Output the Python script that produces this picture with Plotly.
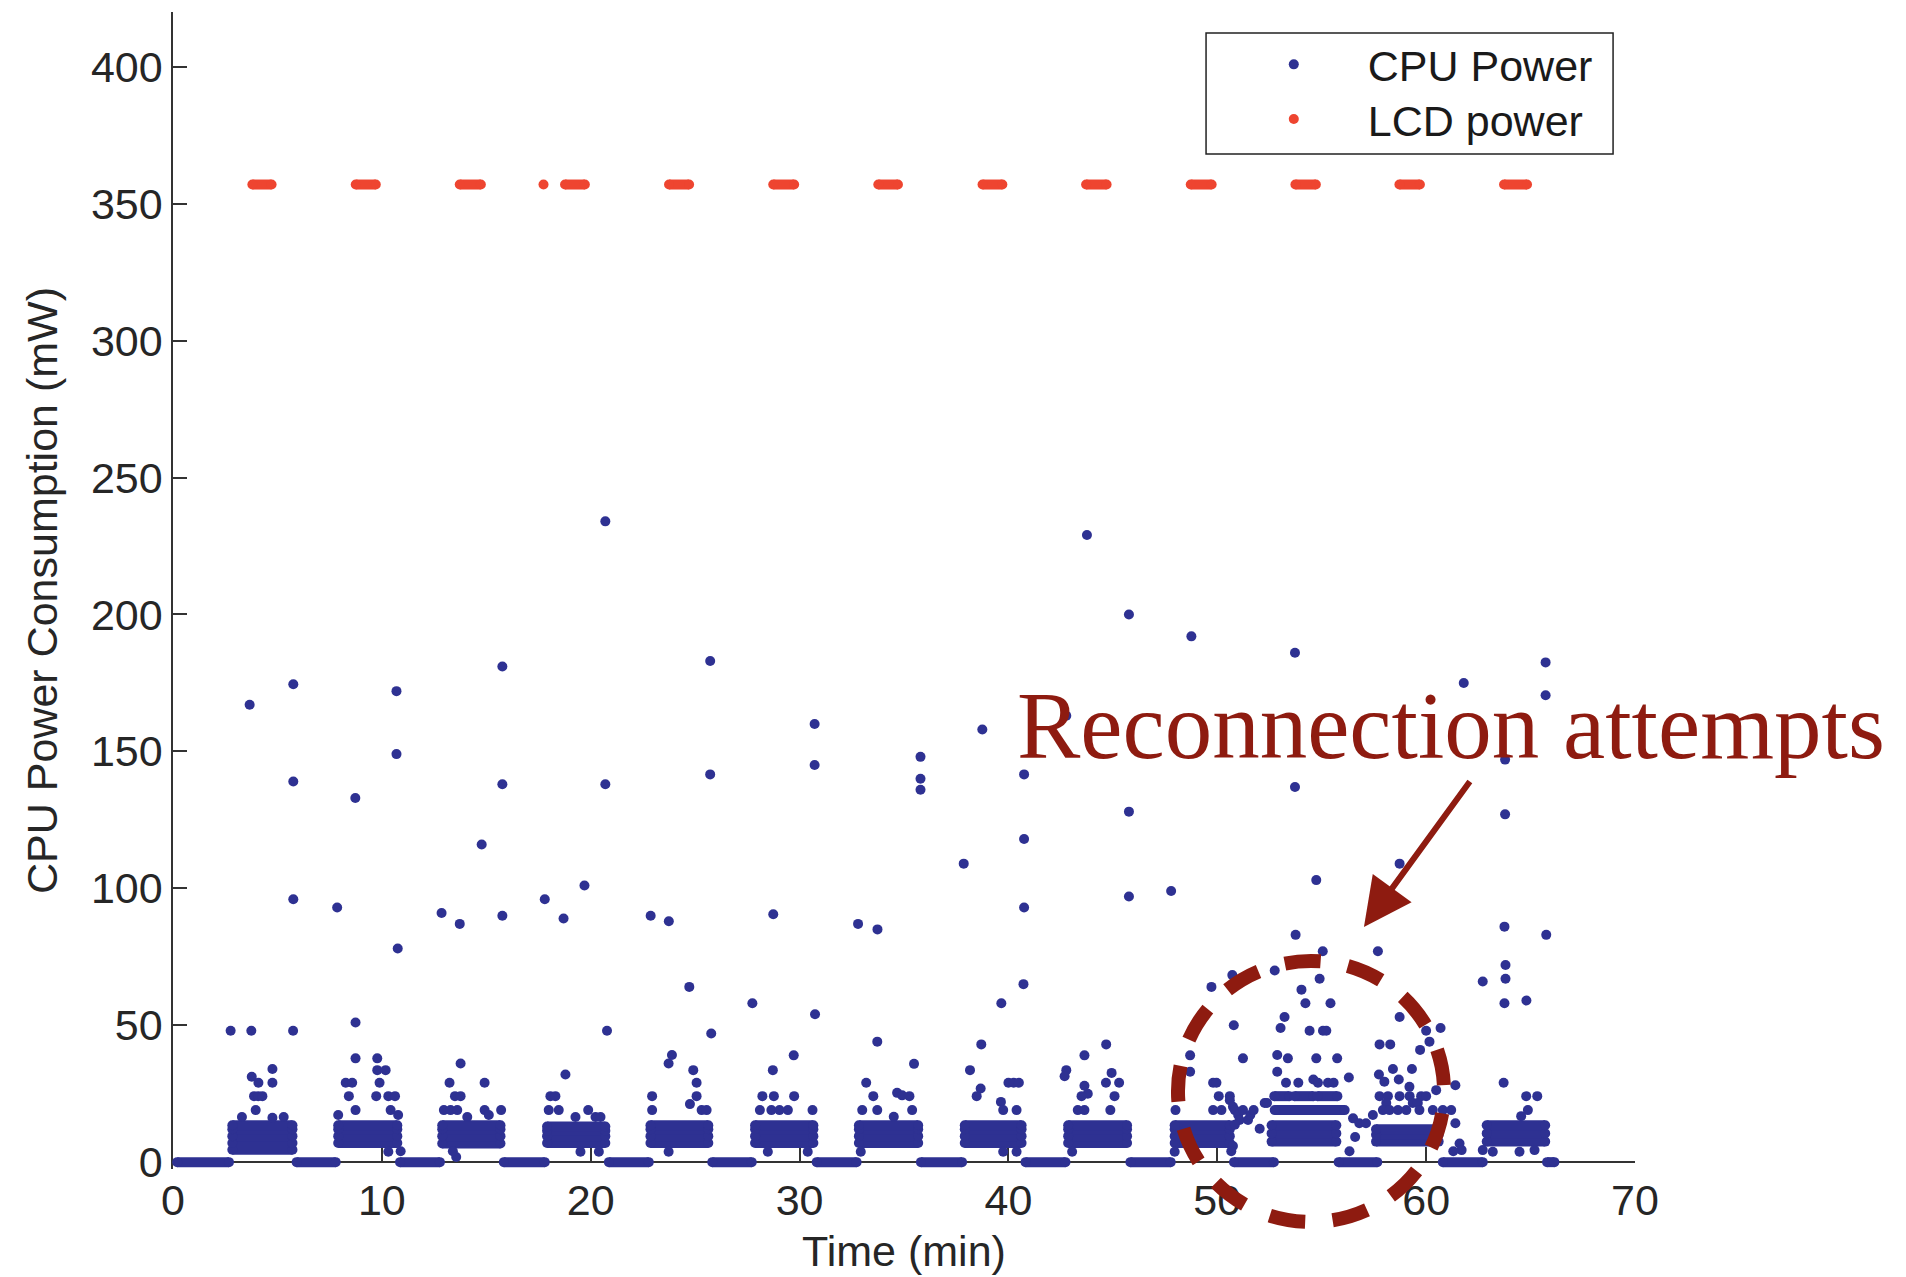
import plotly.graph_objects as go

SANS = "Liberation Sans, Arial, Helvetica, sans-serif"
SERIF = "Liberation Serif, Times New Roman, serif"
CPU_COLOR = "#2E3192"
LCD_COLOR = "#EE4530"
NOTE_COLOR = "#8E1B10"
AXIS_COLOR = "#333333"
TEXT_COLOR = "#262626"
DOT = 10

X_TICKS = [0, 10, 20, 30, 40, 50, 60, 70]
Y_TICKS = [0, 50, 100, 150, 200, 250, 300, 350, 400]
X_MAX = 70
Y_MAX = 420
Y_PAD = 2.5  # a little room below zero so the idle runs are drawn whole

# ---------------- LCD power (mW): screen-on intervals, minutes ----------------
LCD_MW = 357
LCD_ON_START = [3.80, 8.75, 13.73, 18.77, 23.75, 28.74, 33.77, 38.76, 43.72, 48.73, 53.74, 58.72, 63.73]
LCD_ON_END = [4.72, 9.71, 14.74, 19.72, 24.71, 29.74, 34.71, 39.71, 44.70, 49.73, 54.72, 59.70, 64.83]
LCD_SINGLE_T = [17.74]

# ---------------- CPU power (mW) ----------------
# idle runs at 0 mW
IDLE_START = [0.20, 5.92, 10.87, 15.84, 20.87, 25.82, 30.82, 35.81, 40.82, 45.84, 50.80, 55.81, 60.80, 65.79]
IDLE_END = [2.68, 7.79, 12.78, 17.80, 22.78, 27.71, 32.73, 37.78, 42.73, 47.77, 52.71, 57.66, 62.71, 66.14]

# busy runs: dense rows of samples at these levels
BUSY_START = [2.84, 7.91, 12.89, 17.91, 22.86, 27.87, 32.84, 37.91, 42.86, 47.96, 52.60, 57.60, 62.90]
BUSY_END = [5.72, 10.74, 15.68, 20.70, 25.63, 30.66, 35.68, 40.63, 45.68, 50.60, 55.70, 60.60, 65.70]
BUSY_LEVELS = [
    [4.5, 7.0, 9.5, 12.0, 13.5],
    [7.0, 9.5, 12.0, 13.5],
    [6.8, 9.5, 12.0, 13.5],
    [7.0, 9.5, 11.5, 13.0],
    [7.0, 9.5, 12.0, 13.5],
    [7.0, 9.5, 12.0, 13.5],
    [7.0, 9.5, 12.0, 13.5],
    [7.0, 9.5, 12.0, 13.5],
    [7.0, 9.5, 12.0, 13.5],
    [7.0, 9.5, 12.0, 13.5],
    [7.5, 10.5, 13.5],
    [7.5, 10.0, 12.0],
    [7.5, 10.5, 13.5],
]

# repeated reconnection attempts: steady rows above the busy band
RETRY_ROW_MW = [19.0, 24.1, 24.1, 24.1]
RETRY_ROW_START = [52.75, 52.73, 53.70, 54.80]
RETRY_ROW_END = [56.10, 53.45, 54.60, 55.75]

# isolated samples: spikes above the busy band
SPIKE_T = [2.76, 3.75, 5.75, 3.67, 5.76, 5.76, 5.76,
           7.86, 8.73, 8.74, 10.70, 10.70, 10.76,
           12.86, 13.73, 14.78, 15.77, 15.77, 15.77,
           17.80, 18.70, 19.70, 20.70, 20.70, 20.78,
           22.87, 23.74, 24.72, 25.72, 25.72, 25.77,
           27.74, 28.74, 30.72, 30.72, 30.74,
           32.80, 33.73, 33.72, 35.79, 35.79, 35.79,
           37.86, 38.75, 38.70, 39.66, 40.75, 40.75, 40.75, 40.72,
           42.77, 43.76, 44.68, 45.77, 45.77, 45.77,
           47.79, 48.76, 49.72, 50.72, 50.79,
           52.75, 53.72, 53.72, 54.74, 53.75, 54.90, 55.05, 54.03, 54.22, 55.42, 53.22, 53.03, 54.42, 55.06, 55.22,
           57.69, 58.73, 58.73, 60.00, 60.69, 60.16, 59.71, 57.77, 58.28,
           61.80, 62.71, 63.78, 63.78, 63.75, 63.80, 63.80, 63.75, 64.80, 65.72, 65.72, 65.75]
SPIKE_MW = [48, 48, 48, 167, 174.5, 139, 96,
            93, 133, 51, 172, 149, 78,
            91, 87, 116, 181, 138, 90,
            96, 89, 101, 234, 138, 48,
            90, 88, 64, 183, 141.6, 47,
            58, 90.5, 160, 145, 54,
            87, 85, 44, 148, 140, 136,
            109, 158, 43, 58, 141.6, 118, 93, 65,
            163, 229, 43, 200, 128, 97,
            99, 192, 64, 68.3, 50,
            70, 186, 137, 103, 83, 67, 77, 63, 58, 58, 53, 49, 48, 48, 48,
            77, 109, 53, 48, 49, 44, 41, 43, 43,
            175, 66, 147, 127, 86, 72, 67, 58, 59, 182.5, 170.5, 83]

# isolated samples: just above / below the busy band
BURST_T = [3.77, 4.09, 4.76, 4.76, 3.88, 4.08, 4.28, 3.96, 4.76, 3.30, 5.30,
           8.74, 9.78, 8.27, 8.58, 9.78, 10.18, 9.89, 8.42, 9.73, 10.31, 10.63, 8.74, 10.42, 7.91, 10.78, 10.90, 10.31,
           13.77, 13.24, 14.92, 13.50, 13.77, 12.97, 13.29, 13.61, 14.92, 15.71, 14.09, 15.12, 13.56, 13.40,
           18.79, 18.07, 18.31, 17.99, 18.47, 19.88, 19.27, 20.23, 20.47, 19.51, 20.39,
           22.94, 22.94, 23.73, 23.89, 24.91, 25.07, 25.07, 24.75, 25.31, 25.55, 23.73,
           28.72, 29.72, 28.22, 28.77, 29.74, 28.10, 28.65, 29.04, 29.44, 30.62, 28.48, 30.39,
           35.48, 33.19, 33.53, 34.67, 34.91, 35.26, 33.00, 33.72, 35.39, 34.51, 32.93,
           38.16, 38.67, 38.48, 40.00, 40.25, 40.50, 39.64, 39.75, 40.39, 39.75, 40.39,
           43.64, 42.77, 42.69, 44.94, 43.64, 43.80, 43.50, 44.67, 45.30, 45.08, 43.32, 43.64, 44.88, 43.05,
           48.70, 48.70, 48.00, 47.96, 49.80, 49.96, 50.07, 50.60, 49.80, 50.20]
BURST_MW = [31.2, 29, 34, 29, 24.1, 24.1, 24.1, 19, 16.2, 16.5, 16.5,
            37.9, 37.9, 29, 29, 33.6, 33.6, 29, 24.1, 24.1, 24.1, 24.1, 19, 19, 17.2, 17.2, 4.0, 3.8,
            36, 29, 29, 24.1, 24.1, 19, 19, 19, 19, 19, 16.5, 17.2, 1.9, 4.0,
            32, 24.1, 24.1, 19, 19, 19, 16.5, 16.5, 16.5, 3.8, 3.8,
            24.1, 19, 36, 39.1, 33.6, 29, 24.1, 21.2, 19, 19, 3.8,
            33.6, 39, 24.1, 24.1, 24.1, 19, 19, 19, 19, 19, 3.8, 3.8,
            35.9, 29, 24.1, 25.3, 24.4, 24.1, 19, 19, 19, 16.6, 3.8,
            33.6, 26.9, 24.1, 29, 29, 29, 22, 19, 19, 3.8, 3.8,
            39, 33.6, 31.4, 32.6, 27.9, 25, 24.1, 29, 29, 24.1, 19, 19, 19, 3.8,
            39, 33, 19, 3.8, 29, 29, 24.1, 24.1, 19, 19]

# isolated samples: scattered reconnection activity
RETRY_T = [50.60, 50.75, 50.84, 51.00, 51.07, 51.23, 51.47, 51.58, 51.74, 52.03, 52.27, 52.38, 50.84, 50.75, 50.67,
           51.23, 52.87, 53.38, 54.74, 55.74, 52.87, 53.29, 53.88, 54.60, 54.82, 55.30, 55.57,
           56.50, 56.80, 57.12, 57.45, 56.60, 56.33, 56.30,
           57.74, 58.41, 59.32, 61.40, 58.00, 58.69, 59.20, 60.48,
           57.77, 58.17, 58.73, 59.21, 59.76, 60.00, 58.09, 59.36, 59.60,
           57.93, 58.25, 58.65, 59.05, 59.68, 60.32, 60.80, 61.20, 61.40, 61.60, 61.70, 61.30,
           63.71, 64.79, 65.32, 64.87, 64.55, 62.71, 63.19, 64.47, 65.19]
RETRY_MW = [22.6, 20.2, 19.0, 17.2, 15.4, 19.0, 15.4, 17.2, 19.0, 12.2, 21.6, 21.6, 13.7, 5.9, 4.0,
            37.9, 39.1, 37.9, 37.9, 37.9, 33, 29, 29, 30.2, 29, 29, 29,
            16.0, 14.2, 14.2, 17.2, 9.2, 4.0, 30.9,
            32, 34, 34, 28.1, 29.4, 30.2, 27.5, 26.3,
            24.1, 24.1, 24.1, 24.1, 24.1, 24.1, 21.6, 21.6, 21.6,
            19, 19, 19, 19, 19, 19, 19, 19, 14.2, 6.8, 4.4, 4.0,
            29, 24.1, 24.1, 19, 16.8, 4.4, 3.8, 3.8, 4.4]


def runs(starts, ends, levels):
    """Flatten constant-level runs into one polyline broken by gaps."""
    xs, ys = [], []
    for s, e, v in zip(starts, ends, levels):
        xs += [s, e, None]
        ys += [v, v, None]
    return xs, ys


busy_s, busy_e, busy_v = [], [], []
for s, e, levels in zip(BUSY_START, BUSY_END, BUSY_LEVELS):
    for v in levels:
        busy_s.append(s)
        busy_e.append(e)
        busy_v.append(v)

cpu_run_x, cpu_run_y = runs(
    IDLE_START + busy_s + RETRY_ROW_START,
    IDLE_END + busy_e + RETRY_ROW_END,
    [0] * len(IDLE_START) + busy_v + RETRY_ROW_MW,
)
lcd_run_x, lcd_run_y = runs(LCD_ON_START, LCD_ON_END, [LCD_MW] * len(LCD_ON_START))

fig = go.Figure()
fig.add_trace(go.Scatter(
    x=cpu_run_x, y=cpu_run_y, mode="lines+markers",
    line=dict(color=CPU_COLOR, width=DOT),
    marker=dict(color=CPU_COLOR, size=DOT),
    showlegend=False, cliponaxis=False, hoverinfo="skip",
))
fig.add_trace(go.Scatter(
    x=SPIKE_T + BURST_T + RETRY_T, y=SPIKE_MW + BURST_MW + RETRY_MW,
    mode="markers", name="CPU Power",
    marker=dict(color=CPU_COLOR, size=DOT),
    cliponaxis=False, legend="legend",
))
fig.add_trace(go.Scatter(
    x=lcd_run_x, y=lcd_run_y, mode="lines+markers",
    line=dict(color=LCD_COLOR, width=DOT),
    marker=dict(color=LCD_COLOR, size=DOT),
    showlegend=False, cliponaxis=False, hoverinfo="skip",
))
fig.add_trace(go.Scatter(
    x=LCD_SINGLE_T, y=[LCD_MW] * len(LCD_SINGLE_T),
    mode="markers", name="LCD power",
    marker=dict(color=LCD_COLOR, size=DOT),
    cliponaxis=False, legend="legend2",
))

axis_common = dict(
    ticks="inside", ticklen=14, tickwidth=1.5, tickcolor=AXIS_COLOR,
    showline=True, linecolor=AXIS_COLOR, linewidth=1.5,
    showgrid=False, zeroline=False, layer="below traces",
    tickfont=dict(family=SANS, size=43, color=TEXT_COLOR),
)

# one legend per entry so the rows sit at the same spacing as the boxed key
legend_common = dict(
    x=0.7160, xanchor="left", yanchor="middle",
    bgcolor="rgba(0,0,0,0)", borderwidth=0,
    font=dict(family=SANS, size=43, color="#1a1a1a"),
    itemwidth=138,
)

fig.update_layout(
    width=1906, height=1277,
    margin=dict(l=173, r=271, t=12, b=108, autoexpand=False),
    paper_bgcolor="white", plot_bgcolor="white",
    font=dict(family=SANS, size=43, color=TEXT_COLOR),
    xaxis=dict(
        range=[0, X_MAX], tickvals=X_TICKS,
        anchor="free", position=Y_PAD / (Y_MAX + Y_PAD),
        title=dict(text="Time (min)", font=dict(family=SANS, size=43, color=TEXT_COLOR), standoff=12),
        **axis_common,
    ),
    yaxis=dict(
        range=[-Y_PAD, Y_MAX], tickvals=Y_TICKS,
        title=dict(text="CPU Power Consumption (mW)", font=dict(family=SANS, size=43, color=TEXT_COLOR), standoff=20),
        **axis_common,
    ),
    legend=dict(y=0.9547, **legend_common),
    legend2=dict(y=0.9075, **legend_common),
    showlegend=True,
)

# frame around the key
fig.add_shape(
    type="rect", xref="paper", yref="paper",
    x0=0.7066, x1=0.9850, y0=0.8773, y1=0.9818,
    line=dict(color="#222222", width=1.5), layer="above",
)

# callout: dashed ring around the reconnection attempts, label and arrow
fig.add_shape(
    type="circle", xref="paper", yref="paper",
    x0=0.6874, x1=0.8694, y0=-0.0458, y1=0.1798,
    line=dict(color=NOTE_COLOR, width=14, dash="0px,22px,36px,5.6px"),
    layer="above",
)
fig.add_annotation(
    text="Reconnection attempts", xref="paper", yref="paper",
    x=0.8741, y=0.3829, xanchor="center", yanchor="middle",
    showarrow=False, font=dict(family=SERIF, size=95, color=NOTE_COLOR),
)
fig.add_annotation(
    text="", xref="paper", yref="paper", x=0.8146, y=0.2092,
    ax=107, ay=-147, showarrow=True,
    arrowhead=2, arrowsize=1.6, arrowwidth=6, arrowcolor=NOTE_COLOR,
)

fig.write_html("out.html")
